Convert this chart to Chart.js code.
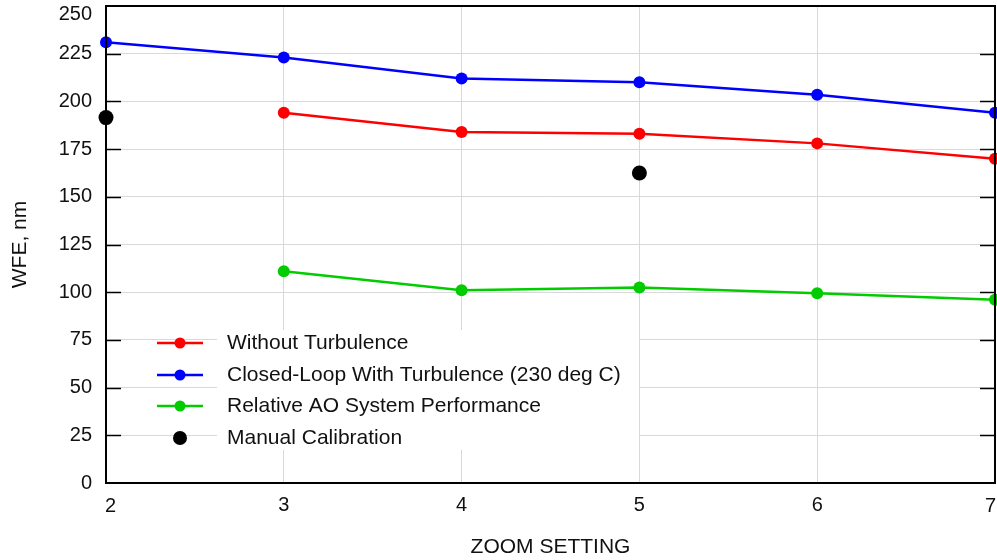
<!DOCTYPE html>
<html>
<head>
<meta charset="utf-8">
<script src="https://cdn.jsdelivr.net/npm/chart.js@4/dist/chart.umd.min.js"></script>
<style>
html,body{margin:0;padding:0;background:#fff;}
#wrap{width:997px;height:560px;position:relative;}
</style>
</head>
<body>
<div id="wrap"><canvas id="c" width="997" height="560"></canvas></div>
<script>
const zoomSettings = [2, 3, 4, 5, 6, 7];
const withoutTurbulence = [null, 194, 184, 183, 178, 170];
const closedLoop = [231, 223, 212, 210, 203.5, 194];
const relativeAO = [null, 111, 101, 102.5, 99.5, 96];
const manualX = [2, 5];
const manualY = [191.5, 162.5];
const yTicks = [0, 25, 50, 75, 100, 125, 150, 175, 200, 225, 250];
const seriesLabels = ["Without Turbulence", "Closed-Loop With Turbulence (230 deg C)", "Relative AO System Performance", "Manual Calibration"];
const seriesColors = ["#ff0000", "#0000ff", "#00cc00", "#000000"];

const FONT = "'Liberation Sans', Arial, Helvetica, sans-serif";
const xMin = zoomSettings[0], xMax = zoomSettings[zoomSettings.length - 1];
const yMin = yTicks[0], yMax = yTicks[yTicks.length - 1];

function pts(xs, ys) {
  return xs.map((x, i) => ({x: x, y: ys[i]})).filter(p => p.y !== null);
}

const framePlugin = {
  id: 'frame',
  afterDatasetsDraw(chart) {
    const ctx = chart.ctx;
    ctx.save();
    // legend background (only behind the text column)
    ctx.fillStyle = '#ffffff';
    ctx.fillRect(217, 330, 422, 120);
    const rows = [343, 375, 406, 438];
    ctx.font = '21px ' + FONT;
    ctx.textBaseline = 'middle';
    rows.forEach((ry, i) => {
      const col = seriesColors[i];
      if (i < 3) {
        ctx.strokeStyle = col;
        ctx.lineWidth = 2.5;
        ctx.beginPath();
        ctx.moveTo(157, ry);
        ctx.lineTo(203, ry);
        ctx.stroke();
        ctx.fillStyle = col;
        ctx.beginPath();
        ctx.arc(180, ry, 5.5, 0, Math.PI * 2);
        ctx.fill();
      } else {
        ctx.fillStyle = col;
        ctx.beginPath();
        ctx.arc(180, ry, 7, 0, Math.PI * 2);
        ctx.fill();
      }
      ctx.fillStyle = '#111';
      ctx.fillText(seriesLabels[i], 227, ry);
    });
    ctx.restore();
  },
  afterDraw(chart) {
    const ctx = chart.ctx;
    const a = chart.chartArea;
    const ys = chart.scales.y;
    const xs = chart.scales.x;
    ctx.save();
    ctx.strokeStyle = '#000';
    ctx.lineWidth = 2;
    ctx.strokeRect(a.left, a.top, a.right - a.left, a.bottom - a.top);
    ctx.lineWidth = 1.5;
    yTicks.forEach(v => {
      const y = Math.round(ys.getPixelForValue(v)) + 0.5;
      if (v === yMin || v === yMax) return;
      ctx.beginPath();
      ctx.moveTo(a.left, y); ctx.lineTo(a.left + 15, y);
      ctx.moveTo(a.right, y); ctx.lineTo(a.right - 15, y);
      ctx.stroke();
    });
    // edge tick labels, nudged inside the canvas
    ctx.fillStyle = '#111';
    ctx.font = '20px ' + FONT;
    ctx.textBaseline = 'middle';
    ctx.textAlign = 'right';
    ctx.fillText(String(yMax), a.left - 14, ys.getPixelForValue(yMax) + 8);
    ctx.textBaseline = 'top';
    ctx.textAlign = 'left';
    ctx.fillText(String(xMin), xs.getPixelForValue(xMin) - 1, a.bottom + 13);
    ctx.textAlign = 'right';
    ctx.fillText(String(xMax), xs.getPixelForValue(xMax) + 1, a.bottom + 13);
    ctx.restore();
  }
};

new Chart(document.getElementById('c'), {
  type: 'line',
  data: {
    datasets: [
      {label: seriesLabels[0], data: pts(zoomSettings, withoutTurbulence), borderColor: seriesColors[0], backgroundColor: seriesColors[0], borderWidth: 2.5, pointRadius: 6, pointHoverRadius: 6, pointBorderWidth: 0, clip: false, order: 2},
      {label: seriesLabels[1], data: pts(zoomSettings, closedLoop), borderColor: seriesColors[1], backgroundColor: seriesColors[1], borderWidth: 2.5, pointRadius: 6, pointHoverRadius: 6, pointBorderWidth: 0, clip: false, order: 1},
      {label: seriesLabels[2], data: pts(zoomSettings, relativeAO), borderColor: seriesColors[2], backgroundColor: seriesColors[2], borderWidth: 2.5, pointRadius: 6, pointHoverRadius: 6, pointBorderWidth: 0, clip: false, order: 3},
      {label: seriesLabels[3], data: pts(manualX, manualY), borderColor: seriesColors[3], backgroundColor: seriesColors[3], showLine: false, pointRadius: 7.5, pointHoverRadius: 7.5, pointBorderWidth: 0, clip: false, order: 0}
    ]
  },
  options: {
    responsive: false,
    animation: false,
    layout: {padding: {top: 6, right: 2, left: 0, bottom: 0}, autoPadding: false},
    plugins: {legend: {display: false}, tooltip: {enabled: false}},
    scales: {
      x: {
        type: 'linear', min: xMin, max: xMax,
        afterBuildTicks: s => { s.ticks = zoomSettings.map(v => ({value: v})); },
        grid: {color: '#d9d9d9', lineWidth: 1, drawTicks: false},
        border: {display: false},
        ticks: {font: {family: FONT, size: 20}, color: '#111', padding: 10, maxRotation: 0,
                callback: v => (v === xMin || v === xMax) ? '' : String(v)},
        title: {display: true, text: 'ZOOM SETTING', font: {family: FONT, size: 21}, color: '#111', padding: {top: 0, bottom: 0}},
        afterFit: s => { s.height = 77; s.paddingLeft = 0; s.paddingRight = 0; }
      },
      y: {
        min: yMin, max: yMax,
        afterBuildTicks: s => { s.ticks = yTicks.map(v => ({value: v})); },
        grid: {color: '#d9d9d9', lineWidth: 1, drawTicks: false},
        border: {display: false},
        ticks: {font: {family: FONT, size: 20}, color: '#111', padding: 14,
                callback: v => v === yMax ? '' : String(v)},
        title: {display: true, text: 'WFE, nm', font: {family: FONT, size: 21}, color: '#111', padding: {top: 8, bottom: 0}},
        afterFit: s => { s.width = 106; s.paddingTop = 0; s.paddingBottom = 0; }
      }
    }
  },
  plugins: [framePlugin]
});
</script>
</body>
</html>
